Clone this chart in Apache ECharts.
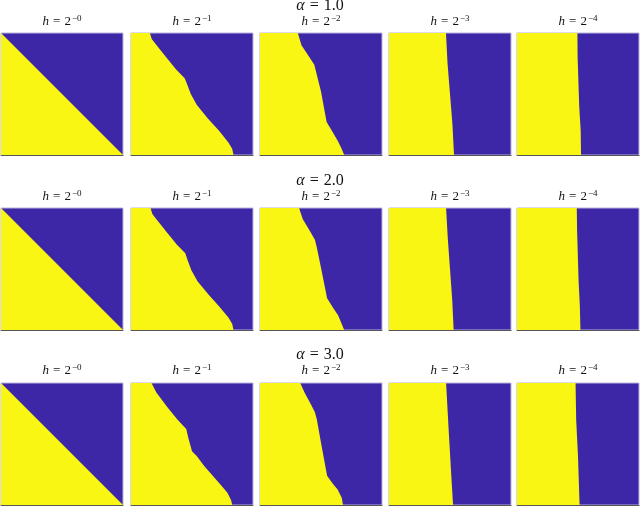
<!DOCTYPE html>
<html>
<head>
<meta charset="utf-8">
<script src="https://cdn.jsdelivr.net/npm/echarts@6/dist/echarts.min.js"></script>
<style>html,body{margin:0;padding:0;background:#fff}#c{width:640px;height:506px}</style>
</head>
<body>
<div id="c"></div>
<script>
// ---- data ----
const rowTitles = ['1.0', '2.0', '3.0'];          // alpha values
const panelExponents = ['0', '1', '2', '3', '4']; // h = 2^-k
// boundary between yellow (left) and blue (right): [x, t], t = 0 top .. 1 bottom
const a1h0 = [[0, 0], [1, 1]];
const a1h1 = [[0.155, 0], [0.17, 0.05], [0.21, 0.10], [0.29, 0.20], [0.37, 0.30], [0.44, 0.37], [0.46, 0.42], [0.49, 0.50], [0.54, 0.59], [0.63, 0.70], [0.72, 0.80], [0.80, 0.90], [0.83, 0.95], [0.84, 1.0]];
const a1h2 = [[0.31, 0], [0.34, 0.10], [0.40, 0.19], [0.445, 0.26], [0.46, 0.32], [0.50, 0.48], [0.546, 0.73], [0.60, 0.82], [0.64, 0.89], [0.67, 0.95], [0.69, 1.0]];
const a1h3 = [[0.467, 0], [0.48, 0.25], [0.50, 0.5], [0.52, 0.75], [0.533, 1]];
const a1h4 = [[0.495, 0], [0.497, 0.2], [0.51, 0.6], [0.522, 0.8], [0.525, 1]];
const a2h0 = [[0, 0], [1, 1]];
const a2h1 = [[0.16, 0], [0.175, 0.05], [0.215, 0.10], [0.295, 0.20], [0.375, 0.30], [0.445, 0.37], [0.465, 0.43], [0.495, 0.51], [0.545, 0.60], [0.635, 0.71], [0.725, 0.81], [0.80, 0.90], [0.83, 0.95], [0.84, 1.0]];
const a2h2 = [[0.32, 0], [0.35, 0.09], [0.41, 0.19], [0.45, 0.26], [0.465, 0.32], [0.50, 0.49], [0.55, 0.74], [0.60, 0.82], [0.64, 0.88], [0.67, 0.95], [0.69, 1.0]];
const a2h3 = [[0.468, 0], [0.482, 0.25], [0.50, 0.5], [0.518, 0.75], [0.53, 1]];
const a2h4 = [[0.49, 0], [0.493, 0.2], [0.505, 0.6], [0.515, 0.8], [0.52, 1]];
const a3h0 = [[0, 0], [1, 1]];
const a3h1 = [[0.168, 0], [0.208, 0.077], [0.30, 0.20], [0.38, 0.30], [0.453, 0.378], [0.47, 0.45], [0.50, 0.56], [0.537, 0.597], [0.60, 0.68], [0.67, 0.76], [0.74, 0.84], [0.79, 0.90], [0.82, 0.96], [0.83, 1]];
const a3h2 = [[0.33, 0], [0.365, 0.077], [0.42, 0.18], [0.45, 0.24], [0.466, 0.30], [0.50, 0.49], [0.55, 0.76], [0.60, 0.83], [0.635, 0.87], [0.67, 0.94], [0.68, 1]];
const a3h3 = [[0.468, 0], [0.49, 0.4], [0.51, 0.75], [0.525, 1]];
const a3h4 = [[0.48, 0], [0.485, 0.3], [0.50, 0.6], [0.513, 1]];
const boundaries = [
  [a1h0, a1h1, a1h2, a1h3, a1h4],
  [a2h0, a2h1, a2h2, a2h3, a2h4],
  [a3h0, a3h1, a3h2, a3h3, a3h4]
];

// ---- layout / style ----
const YELLOW = '#f8f612';
const BLUE = '#3d27a6';
const colLefts = [1, 131, 260, 389, 517];
const rowTops = [33, 208, 383];
const PW = 122, PH = 122;
const rowTitleY = [6, 181, 355];
const panelTitleY = [22, 197, 371];
const FONT = '"Liberation Serif", "DejaVu Serif", serif';

const grid = [], xAxis = [], yAxis = [], series = [], graphic = [];
let gi = 0;
for (let r = 0; r < 3; r++) {
  graphic.push({
    type: 'text', x: 320, y: rowTitleY[r],
    style: {
      text: '{a|α}{e|=}' + rowTitles[r],
      font: '16px ' + FONT, fill: '#111',
      textAlign: 'center', textVerticalAlign: 'middle',
      rich: {
        a: { fontFamily: FONT, fontSize: 16, fontStyle: 'italic', fill: '#111' },
        e: { fontFamily: FONT, fontSize: 16, fill: '#111', padding: [0, 5, 0, 5] }
      }
    }
  });
  for (let c = 0; c < 5; c++) {
    grid.push({
      left: colLefts[c], top: rowTops[r], width: PW, height: PH,
      show: true, backgroundColor: BLUE, borderColor: '#b9b3de', borderWidth: 1
    });
    xAxis.push({
      type: 'value', gridIndex: gi, min: 0, max: 1,
      axisLine: { show: true, onZero: false, lineStyle: { color: '#555', width: 1 } },
      axisTick: { show: false }, axisLabel: { show: false }, splitLine: { show: false }
    });
    yAxis.push({
      type: 'value', gridIndex: gi, min: 0, max: 1, inverse: true, show: false,
      splitLine: { show: false }
    });
    const bnd = boundaries[r][c];
    series.push({
      type: 'custom', xAxisIndex: gi, yAxisIndex: gi,
      data: bnd, encode: { x: 0, y: 1 }, silent: true, animation: false,
      renderItem: function (params, api) {
        if (params.dataIndex !== 0) return null;
        const pts = [api.coord([0, 0])];
        bnd.forEach(p => pts.push(api.coord(p)));
        pts.push(api.coord([0, 1]));
        return { type: 'polygon', shape: { points: pts }, style: { fill: YELLOW } };
      }
    });
    graphic.push({
      type: 'text', x: colLefts[c] + PW / 2, y: panelTitleY[r],
      style: {
        text: '{i|h}{e|=}2{s|−' + panelExponents[c] + '}',
        font: '13px ' + FONT, fill: '#111',
        textAlign: 'center', textVerticalAlign: 'middle',
        rich: {
          i: { fontFamily: FONT, fontSize: 13, fontStyle: 'italic', fill: '#111', lineHeight: 15 },
          e: { fontFamily: FONT, fontSize: 13, fill: '#111', lineHeight: 15, padding: [0, 4, 0, 4] },
          s: { fontFamily: FONT, fontSize: 9, fill: '#111', verticalAlign: 'top', lineHeight: 15, padding: [0, 0, 6, 1] }
        }
      }
    });
    gi++;
  }
}

const chart = echarts.init(document.getElementById('c'), null, { renderer: 'canvas' });
chart.setOption({ animation: false, grid, xAxis, yAxis, series, graphic });
</script>
</body>
</html>
